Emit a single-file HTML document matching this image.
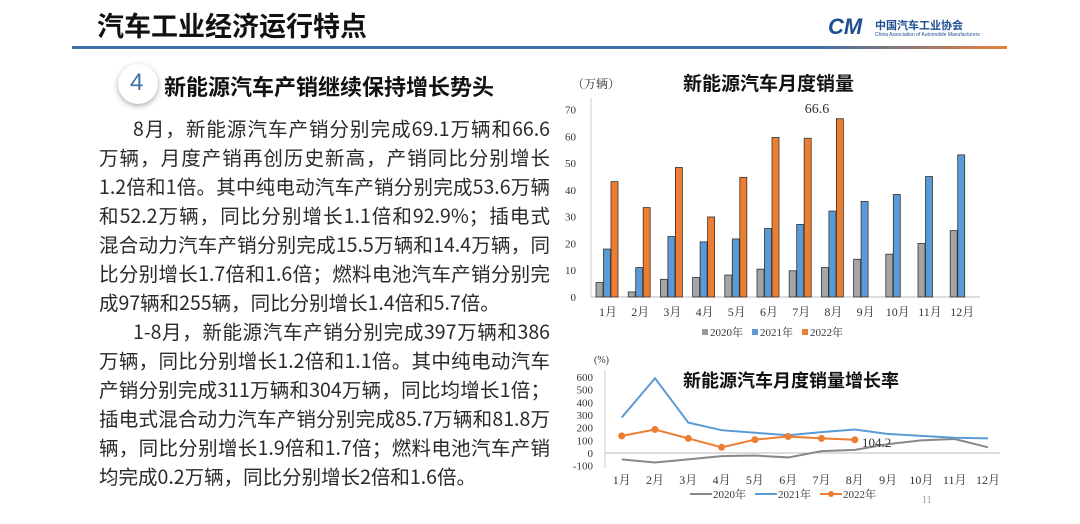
<!DOCTYPE html><html><head><meta charset="utf-8"><style>
body{margin:0;width:1080px;height:524px;background:#fff;overflow:hidden;position:relative;font-family:"Liberation Sans","Noto Sans CJK SC",sans-serif}
.t{position:absolute;white-space:nowrap}
.p div{height:29px;white-space:nowrap;text-align:justify;text-align-last:justify}
.p div.l{text-align-last:left}
</style></head><body>
<div class="t" style="left:97px;top:5px;font-size:27px;font-weight:bold;color:#111;font-family:'Noto Sans CJK SC',sans-serif">汽车工业经济运行特点</div>
<div style="position:absolute;left:72px;top:46px;width:935px;height:3px;background:linear-gradient(90deg,#3f6fa8 0%,#3f6fa8 80%,#e8813a 100%)"></div>
<div class="t" style="left:828px;top:14px;font-size:22px;font-weight:bold;color:#1d4f91;font-style:italic">CM</div>
<div class="t" style="left:875px;top:17px;font-size:11px;font-weight:bold;color:#1d4f91;font-family:'Noto Sans CJK SC',sans-serif">中国汽车工业协会</div>
<div class="t" style="left:875px;top:32px;font-size:5px;color:#1d4f91">China Association of Automobile Manufacturers</div>
<div style="position:absolute;left:118px;top:64px;width:40px;height:40px;border-radius:50%;background:#fff;box-shadow:0 2px 6px #aaa"></div>
<div class="t" style="left:130px;top:69px;font-size:24px;color:#3f6fa8">4</div>
<div class="t" style="left:164px;top:70px;font-size:22px;font-weight:bold;color:#111;font-family:'Noto Sans CJK SC',sans-serif">新能源汽车产销继续保持增长势头</div>
<div class="p" style="position:absolute;left:99px;top:113px;width:451px;font-size:19.5px;line-height:29px;color:#2a2a2a;font-family:'Noto Sans CJK SC',sans-serif">
<div style="padding-left:34px">8月，新能源汽车产销分别完成69.1万辆和66.6</div>
<div>万辆，月度产销再创历史新高，产销同比分别增长</div>
<div>1.2倍和1倍。其中纯电动汽车产销分别完成53.6万辆</div>
<div>和52.2万辆，同比分别增长1.1倍和92.9%；插电式</div>
<div>混合动力汽车产销分别完成15.5万辆和14.4万辆，同</div>
<div>比分别增长1.7倍和1.6倍；燃料电池汽车产销分别完</div>
<div class="l">成97辆和255辆，同比分别增长1.4倍和5.7倍。</div>
<div style="padding-left:34px">1-8月，新能源汽车产销分别完成397万辆和386</div>
<div>万辆，同比分别增长1.2倍和1.1倍。其中纯电动汽车</div>
<div>产销分别完成311万辆和304万辆，同比均增长1倍；</div>
<div>插电式混合动力汽车产销分别完成85.7万辆和81.8万</div>
<div>辆，同比分别增长1.9倍和1.7倍；燃料电池汽车产销</div>
<div class="l">均完成0.2万辆，同比分别增长2倍和1.6倍。</div>
</div>
<svg width="1080" height="524" style="position:absolute;left:0;top:0" font-family="Liberation Serif,Noto Serif CJK SC,serif">
<text x="572" y="88" font-size="12" fill="#333">（万辆）</text>
<text x="683" y="90" font-size="19" font-weight="bold" fill="#111" font-family="Noto Sans CJK SC,sans-serif">新能源汽车月度销量</text>
<line x1="591" y1="98" x2="591" y2="297" stroke="#ccc"/>
<line x1="591" y1="297" x2="980" y2="297" stroke="#bbb"/>
<g font-size="11" fill="#333" text-anchor="end" id="yt"></g>
<g id="bars"></g>
<text x="817" y="113" font-size="14" fill="#333" text-anchor="middle">66.6</text>
<g id="xl" font-size="12" fill="#333" text-anchor="middle"></g>
<g font-size="11" fill="#333"><rect x="702" y="329" width="6" height="6" fill="#999"/><text x="710" y="336">2020年</text>
<rect x="752" y="329" width="6" height="6" fill="#5b9bd5"/><text x="760" y="336">2021年</text>
<rect x="802" y="329" width="6" height="6" fill="#ed7d31"/><text x="810" y="336">2022年</text></g>
<text x="594" y="363" font-size="10" fill="#333">(%)</text>
<text x="683" y="387" font-size="18" font-weight="bold" fill="#111" font-family="Noto Sans CJK SC,sans-serif">新能源汽车月度销量增长率</text>
<line x1="605" y1="370" x2="605" y2="468" stroke="#ccc"/>
<line x1="605" y1="453" x2="1000" y2="453" stroke="#bbb"/>
<g id="ly" font-size="11" fill="#333" text-anchor="end"></g>
<g id="lines"></g>
<text x="862" y="447" font-size="13" fill="#333">104.2</text>
<g id="lx" font-size="12" fill="#333" text-anchor="middle"></g>
<g font-size="11" fill="#333">
<line x1="690" y1="494" x2="712" y2="494" stroke="#888" stroke-width="2"/><text x="713" y="498">2020年</text>
<line x1="755" y1="494" x2="777" y2="494" stroke="#5b9bd5" stroke-width="2"/><text x="778" y="498">2021年</text>
<line x1="820" y1="494" x2="842" y2="494" stroke="#ed7d31" stroke-width="2"/><circle cx="831" cy="494" r="3" fill="#ed7d31"/><text x="843" y="498">2022年</text></g>
<text x="922" y="503" font-size="10" fill="#999">11</text>
</svg>
<script>
var ns="http://www.w3.org/2000/svg";function el(p,t,a,tx){var e=document.createElementNS(ns,t);for(var k in a)e.setAttribute(k,a[k]);if(tx!=null)e.textContent=tx;document.getElementById(p).appendChild(e);}
for(var v=0;v<=70;v+=10)el("yt","text",{x:576,y:297-v*2.677+4},v);
var a=[5.4,1.9,6.6,7.3,8.2,10.4,9.8,11.0,14.1,16.0,20.0,24.8],b=[17.9,11.0,22.6,20.6,21.7,25.6,27.1,32.1,35.7,38.3,45.0,53.1],c=[43.1,33.4,48.4,29.9,44.7,59.6,59.3,66.6];
for(var i=0;i<12;i++){var x=596+i*32.2;
el("bars","rect",{x:x,y:297-a[i]*2.677,width:7,height:a[i]*2.677,fill:"#a5a5a5",stroke:"#333","stroke-width":0.8});
el("bars","rect",{x:x+7.5,y:297-b[i]*2.677,width:7,height:b[i]*2.677,fill:"#5b9bd5",stroke:"#333","stroke-width":0.8});
if(i<8)el("bars","rect",{x:x+15,y:297-c[i]*2.677,width:7,height:c[i]*2.677,fill:"#ed7d31",stroke:"#333","stroke-width":0.8});
el("xl","text",{x:x+12,y:316},(i+1)+"月");}
for(var v=-100;v<=600;v+=100)el("ly","text",{x:593,y:453-v*0.1267+4},v);
var l0=[-50,-75,-50,-25,-20,-35,15,25,70,100,110,45],l1=[280,590,240,180,160,140,165,185,150,135,120,115],l2=[135,185,115,45,105,130,115,104.2];
function pts(d){return d.map(function(v,i){return (621.7+i*33.3)+","+(453-v*0.1267)}).join(" ")}
el("lines","polyline",{points:pts(l0),fill:"none",stroke:"#888","stroke-width":2});
el("lines","polyline",{points:pts(l1),fill:"none",stroke:"#5b9bd5","stroke-width":2});
el("lines","polyline",{points:pts(l2),fill:"none",stroke:"#ed7d31","stroke-width":2});
l2.forEach(function(v,i){el("lines","circle",{cx:621.7+i*33.3,cy:453-v*0.1267,r:3.5,fill:"#ed7d31"})});
for(var i=0;i<12;i++)el("lx","text",{x:621.7+i*33.3,y:484},(i+1)+"月");
</script>
</body></html>
